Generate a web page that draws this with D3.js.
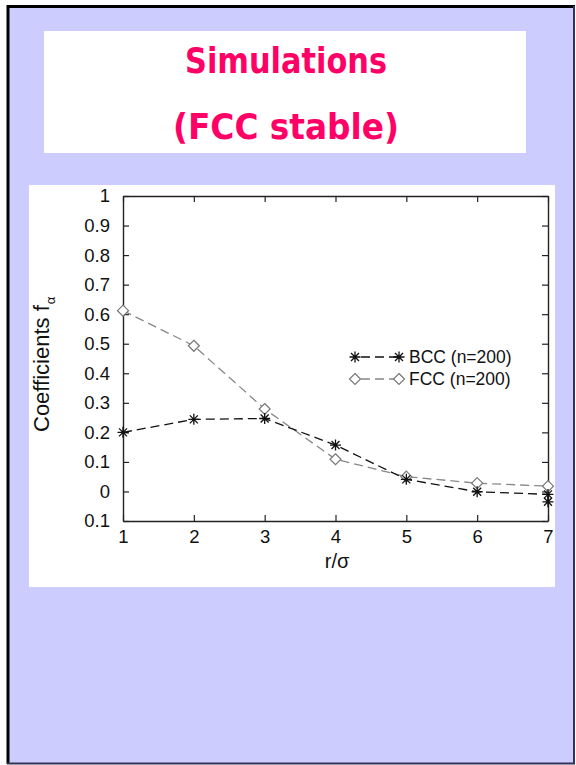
<!DOCTYPE html>
<html>
<head>
<meta charset="utf-8">
<script src="https://cdn.jsdelivr.net/npm/d3@7"></script>
<style>
  body { margin: 0; background: #fff; }
  svg { display: block; }
</style>
</head>
<body>
<script>
// data
var rValues = [1, 2, 3, 4, 5, 6, 7];
var bccValues = [0.200, 0.244, 0.247, 0.157, 0.041, -0.001, -0.010];
var bccExtra = [{ r: 7, v: -0.035 }];        // second star at r=7
var fccValues = [0.612, 0.493, 0.279, 0.109, 0.050, 0.028, 0.018];
var yTicks = [-0.1, 0, 0.1, 0.2, 0.3, 0.4, 0.5, 0.6, 0.7, 0.8, 0.9, 1];
var yTickLabels = ["0.1", "0", "0.1", "0.2", "0.3", "0.4", "0.5", "0.6", "0.7", "0.8", "0.9", "1"];
var titleLines = ["Simulations", "(FCC stable)"];
var legendLabels = ["BCC (n=200)", "FCC (n=200)"];

var w = 576, h = 765;

var svg = d3.select("body").append("svg")
    .attr("width", w)
    .attr("height", h);

// slide frame
svg.append("rect").attr("x", 0).attr("y", 0).attr("width", w).attr("height", h).attr("fill", "#fff");
svg.append("rect")
    .attr("x", 8).attr("y", 6).attr("width", 566).attr("height", 757)
    .attr("fill", "#ccccff");
svg.append("line").attr("x1", 8).attr("x2", 8).attr("y1", 5).attr("y2", 764)
    .attr("stroke", "#000").attr("stroke-width", 3);
svg.append("line").attr("x1", 7).attr("x2", 575).attr("y1", 6.5).attr("y2", 6.5)
    .attr("stroke", "#000").attr("stroke-width", 3);
svg.append("line").attr("x1", 574).attr("x2", 574).attr("y1", 6).attr("y2", 764)
    .attr("stroke", "#333355").attr("stroke-width", 2);
svg.append("line").attr("x1", 7).attr("x2", 575).attr("y1", 763.5).attr("y2", 763.5)
    .attr("stroke", "#333355").attr("stroke-width", 2);

// title box
svg.append("rect")
    .attr("x", 44).attr("y", 31).attr("width", 482).attr("height", 122)
    .attr("fill", "#fff");

var titleWidths = [202, 226];
var titleBase = [73, 139];
svg.selectAll("text.title")
    .data(titleLines)
    .enter()
    .append("text")
    .attr("class", "title")
    .text(function(d) { return d; })
    .attr("x", 286)
    .attr("y", function(d, i) { return titleBase[i]; })
    .attr("text-anchor", "middle")
    .attr("font-family", "'Comic Sans MS', 'DejaVu Sans', sans-serif")
    .attr("font-weight", "bold")
    .attr("font-size", "36px")
    .attr("fill", "#ff0066")
    .attr("textLength", function(d, i) { return titleWidths[i]; })
    .attr("lengthAdjust", "spacingAndGlyphs");

// chart box
svg.append("rect")
    .attr("x", 29).attr("y", 185).attr("width", 526).attr("height", 402)
    .attr("fill", "#fff");

var x = d3.scaleLinear().domain([1, 7]).range([123, 548]);
var y = d3.scaleLinear().domain([-0.1, 1]).range([521, 196]);

var font = "'Liberation Sans', Arial, sans-serif";

function styleAxis(g) {
    g.select(".domain").attr("stroke", "#222").attr("stroke-width", 1.4);
    g.selectAll(".tick line").attr("stroke", "#222").attr("stroke-width", 1.2);
    g.selectAll(".tick text").attr("font-family", font).attr("font-size", "18.5px").attr("fill", "#111");
}

svg.append("g")
    .attr("transform", "translate(" + x.range()[0] + ",0)")
    .call(d3.axisLeft(y).tickValues(yTicks).tickSize(-6).tickSizeOuter(0).tickPadding(13)
        .tickFormat(function(d, i) { return yTickLabels[i]; }))
    .call(styleAxis);

svg.append("g")
    .attr("transform", "translate(" + x.range()[1] + ",0)")
    .call(d3.axisRight(y).tickValues(yTicks).tickSize(-6).tickSizeOuter(0).tickFormat(""))
    .call(styleAxis);

svg.append("g")
    .attr("transform", "translate(0," + y.range()[0] + ")")
    .call(d3.axisBottom(x).tickValues(rValues).tickSize(-6).tickSizeOuter(0).tickPadding(9)
        .tickFormat(d3.format("d")))
    .call(styleAxis);

svg.append("g")
    .attr("transform", "translate(0," + y.range()[1] + ")")
    .call(d3.axisTop(x).tickValues(rValues).tickSize(-6).tickSizeOuter(0).tickFormat(""))
    .call(styleAxis);

// axis titles
svg.append("text")
    .text("r/σ")
    .attr("x", 337).attr("y", 568)
    .attr("text-anchor", "middle")
    .attr("font-family", font).attr("font-size", "20px").attr("fill", "#111");

var yl = svg.append("text")
    .attr("transform", "translate(49,432) rotate(-90)")
    .attr("font-family", font).attr("font-size", "22px").attr("fill", "#111");
yl.append("tspan").text("Coefficients f");
yl.append("tspan").text("α").attr("font-size", "13px").attr("dy", 6).attr("dx", 1);

// series
var bcc = rValues.map(function(r, i) { return { r: r, v: bccValues[i] }; }).concat(bccExtra);
var fcc = rValues.map(function(r, i) { return { r: r, v: fccValues[i] }; });

var line = d3.line()
    .x(function(d) { return x(d.r); })
    .y(function(d) { return y(d.v); });

svg.append("path").datum(fcc)
    .attr("d", line)
    .attr("fill", "none").attr("stroke", "#888").attr("stroke-width", 1.3)
    .attr("stroke-dasharray", "9,5");

svg.append("path").datum(bcc)
    .attr("d", line)
    .attr("fill", "none").attr("stroke", "#111").attr("stroke-width", 1.3)
    .attr("stroke-dasharray", "9,5");

var star = "M-5.5,0H5.5M0,-5.5V5.5M-4,-4L4,4M-4,4L4,-4";
var diamond = "M0,-5.5L5.5,0L0,5.5L-5.5,0Z";

function drawStar(sel) {
    sel.append("path").attr("d", star)
        .attr("fill", "none").attr("stroke", "#111").attr("stroke-width", 1.3);
}
function drawDiamond(sel) {
    sel.append("path").attr("d", diamond)
        .attr("fill", "#fff").attr("stroke", "#777").attr("stroke-width", 1.2);
}

svg.selectAll("g.fccpt")
    .data(fcc)
    .enter()
    .append("g")
    .attr("class", "fccpt")
    .attr("transform", function(d) { return "translate(" + x(d.r) + "," + y(d.v) + ")"; })
    .call(drawDiamond);

svg.selectAll("g.bccpt")
    .data(bcc)
    .enter()
    .append("g")
    .attr("class", "bccpt")
    .attr("transform", function(d) { return "translate(" + x(d.r) + "," + y(d.v) + ")"; })
    .call(drawStar);

// legend
var legY = [357, 379];
var legStroke = ["#111", "#888"];
var leg = svg.selectAll("g.leg")
    .data(legendLabels)
    .enter()
    .append("g")
    .attr("class", "leg")
    .attr("transform", function(d, i) { return "translate(0," + legY[i] + ")"; });

leg.append("line")
    .attr("x1", 355).attr("x2", 399).attr("y1", 0).attr("y2", 0)
    .attr("stroke", function(d, i) { return legStroke[i]; })
    .attr("stroke-width", 1.3).attr("stroke-dasharray", "9,5")
    .attr("stroke-dashoffset", -6);

leg.each(function(d, i) {
    var g = d3.select(this);
    [355, 399].forEach(function(px) {
        var m = g.append("g").attr("transform", "translate(" + px + ",0)");
        if (i === 0) drawStar(m); else drawDiamond(m);
    });
});

leg.append("text")
    .text(function(d) { return d; })
    .attr("x", 409).attr("y", 6)
    .attr("font-family", font).attr("font-size", "17.5px").attr("fill", "#111");
</script>
</body>
</html>
